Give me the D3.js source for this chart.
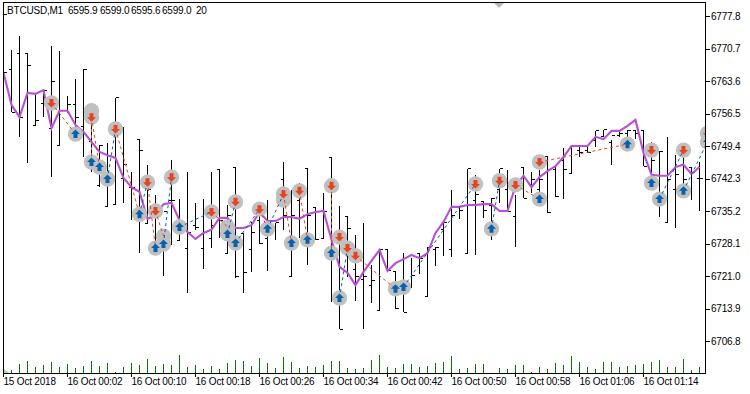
<!DOCTYPE html>
<html>
<head>
<meta charset="utf-8">
<script src="https://cdn.jsdelivr.net/npm/d3@7/dist/d3.min.js"></script>
<style>
  html, body { margin: 0; padding: 0; background: #fff; }
  svg { display: block; }
  text { font-family: "Liberation Sans", sans-serif; font-size: 10px; letter-spacing: -0.2px; fill: #000; white-space: pre; }
  .axis path { stroke: #000; }
  .axis line { stroke: #000; shape-rendering: crispEdges; }
</style>
</head>
<body>
<svg class="chart" width="750" height="394"></svg>
<script>
// one minute bars, index 0 is 15 Oct 23:54
var highs = [6768.2,6770.4,6773.4,6769.7,6760.5,6761.6,6771.3,6770.2,6760.3,6764.0,6766.2,6757.7,6749.6,6750.1,6759.9,6753.6,6743.7,6750.9,6745.3,6738.7,6731.1,6746.3,6737.8,6743.7,6737.0,6737.8,6743.7,6744.2,6736.5,6744.6,6730.2,6732.8,6736.1,6737.6,6732.6,6745.9,6739.8,6741.3,6744.4,6735.9,6739.1,6746.8,6736.3,6734.1,6730.0,6732.6,6723.4,6726.7,6726.7,6721.9,6726.0,6724.9,6726.0,6727.3,6727.3,6732.6,6739.8,6735.9,6744.4,6743.1,6737.2,6738.0,6744.4,6744.2,6738.7,6744.8,6743.7,6744.2,6747.0,6744.8,6749.0,6749.2,6749.4,6749.4,6752.7,6752.9,6750.7,6752.7,6752.9,6752.7,6752.7,6750.3,6748.3,6751.4,6747.4,6748.5,6744.8,6745.9];
var lows = [6759.5,6756.8,6751.4,6745.7,6753.8,6755.7,6742.6,6749.6,6756.6,6753.6,6747.0,6743.7,6740.4,6736.1,6736.7,6737.0,6733.2,6726.0,6732.4,6726.7,6721.0,6727.8,6728.7,6717.3,6731.1,6722.5,6727.1,6729.3,6726.0,6720.6,6717.3,6721.9,6728.0,6722.1,6728.9,6731.1,6721.0,6729.3,6723.4,6728.9,6729.3,6715.3,6709.4,6720.8,6715.5,6709.4,6715.1,6713.4,6722.3,6713.8,6713.1,6718.4,6721.4,6716.4,6723.2,6725.4,6725.2,6733.5,6726.0,6725.6,6733.7,6728.9,6737.0,6735.0,6727.3,6738.0,6739.1,6736.5,6734.8,6738.3,6737.8,6743.5,6747.0,6747.9,6749.2,6751.4,6745.3,6751.4,6749.8,6750.9,6745.0,6742.9,6733.9,6732.6,6731.5,6738.3,6737.6,6735.2];
var opens = [6766.0,6766.2,6769.5,6769.7,6753.8,6758.6,6753.3,6749.6,6757.1,6758.4,6753.6,6750.3,6740.7,6736.1,6736.7,6742.4,6740.4,6750.9,6732.4,6734.3,6728.9,6737.6,6728.7,6726.9,6732.1,6727.1,6729.3,6744.2,6726.0,6744.6,6730.2,6726.7,6733.2,6729.1,6731.5,6742.0,6721.0,6737.6,6744.4,6735.9,6729.3,6746.8,6715.8,6734.1,6722.5,6720.3,6719.0,6713.4,6726.7,6721.9,6717.9,6718.4,6726.0,6716.6,6726.7,6731.1,6726.7,6735.9,6726.0,6737.6,6737.2,6736.5,6739.8,6739.8,6734.1,6744.8,6740.9,6739.8,6747.0,6744.2,6746.3,6743.5,6748.5,6748.5,6750.7,6751.4,6750.1,6751.8,6752.2,6752.7,6752.7,6748.5,6748.1,6732.6,6739.8,6745.3,6744.8,6742.2];
var closes = [6765.4,6756.8,6755.7,6766.9,6754.9,6761.6,6763.6,6757.1,6758.4,6755.7,6766.2,6755.1,6749.6,6747.4,6759.9,6745.3,6740.4,6748.5,6739.8,6736.5,6735.0,6737.6,6732.8,6730.4,6731.7,6730.4,6732.1,6733.2,6734.3,6720.8,6721.7,6730.6,6728.0,6733.0,6732.6,6734.3,6734.3,6739.1,6734.3,6728.9,6735.2,6739.8,6709.4,6731.3,6720.8,6720.8,6720.1,6726.7,6722.3,6713.8,6713.1,6721.2,6724.9,6727.3,6727.3,6732.6,6734.3,6735.4,6744.4,6738.7,6735.4,6738.0,6744.4,6735.0,6739.8,6738.0,6742.0,6742.0,6734.8,6738.3,6744.2,6749.2,6747.9,6747.9,6752.7,6752.9,6751.8,6752.2,6752.7,6752.2,6745.0,6746.3,6748.3,6742.0,6743.1,6742.0,6743.7,6742.2];
// moving average drawn over the bars
var average = [6765.4,6758.4,6755.7,6761.0,6760.8,6761.6,6753.3,6757.1,6757.1,6754.0,6752.5,6750.3,6748.1,6747.4,6746.8,6742.4,6740.4,6739.4,6733.5,6734.3,6736.7,6737.0,6733.2,6730.6,6729.1,6730.4,6731.1,6733.7,6733.7,6731.5,6731.5,6732.1,6735.0,6733.0,6733.0,6733.9,6733.9,6733.5,6734.5,6735.0,6735.2,6728.9,6723.0,6721.7,6719.0,6721.9,6724.3,6726.7,6722.1,6723.8,6724.7,6725.6,6724.9,6726.0,6730.4,6732.8,6736.1,6736.1,6736.5,6736.5,6736.7,6736.7,6735.2,6735.2,6740.6,6742.9,6740.4,6742.6,6743.9,6745.0,6747.0,6749.4,6749.4,6749.4,6751.4,6750.9,6752.7,6752.7,6753.8,6755.1,6747.9,6743.1,6742.9,6742.9,6744.8,6745.3,6743.3,6744.8];
// tick volumes
var volumes = [0,10,28,37,18,25,34,18,28,16,22,37,22,31,4,19,31,25,43,22,28,25,55,19,25,13,22,13,31,40,37,22,46,31,16,49,34,16,22,19,25,37,37,16,13,16,40,55,19,16,28,28,19,22,31,34,52,13,16,28,28,0,16,13,25,25,3,19,13,31,25,52,34,19,13,34,34,19,22,25,28,34,40,19,19,43,10,19];
var wedgeIdx = [0, 0.75];
var wedgeVol = [14, 0];

// trade arrows
var sellIdx = [6,11,14,18,19,21,26,29,32,35,37,41,42,43,44,59,62,64,67,81,85,88];
var sellPrice = [6758.8,6755.7,6753.1,6741.5,6735.2,6742.6,6735.0,6737.2,6735.6,6738.9,6739.6,6740.7,6729.5,6727.1,6725.4,6741.1,6741.8,6740.9,6745.9,6748.5,6748.5,6752.2];
var buyIdx = [9,11,12,13,17,19,20,22,28,29,33,36,38,41,42,49,50,61,67,78,81,82,85,88];
var buyPrice = [6752.0,6745.9,6744.8,6742.2,6734.5,6727.1,6728.0,6731.7,6730.2,6728.2,6731.3,6728.2,6728.9,6726.0,6716.2,6718.2,6718.6,6731.3,6737.8,6749.8,6741.3,6737.8,6739.6,6750.3];
// rings hidden behind another arrow
var ringIdx = [11,20,28,35];
var ringPrice = [6757.1,6729.7,6731.7,6737.6];

// dashed trade lines: from index, from price, to index, to price
var sellLinks = [[6,6758.8,9,6752.0],[11,6755.7,11,6745.9],[11,6755.7,12,6744.8],[14,6753.1,17,6734.5],[18,6741.5,19,6727.1],[19,6735.2,20,6729.7],[26,6735.0,28,6731.7],[32,6735.6,33,6731.3],[35,6738.9,36,6728.2],[37,6739.6,38,6728.9],[41,6740.7,41,6726.0],[44,6725.4,49,6718.2],[64,6740.9,67,6737.8],[67,6745.9,78,6749.8]];
var buyLinks = [[13,6742.2,14,6753.1],[17,6734.5,18,6741.5],[20,6728.0,21,6742.6],[22,6731.7,26,6735.0],[28,6730.2,29,6737.2],[29,6728.2,32,6735.6],[33,6731.3,35,6738.9],[42,6716.2,43,6727.1],[50,6718.6,59,6741.1],[61,6731.3,62,6741.8],[82,6737.8,85,6748.5],[85,6739.6,88,6750.3]];

var priceTicks = [6777.8,6770.7,6763.6,6756.5,6749.4,6742.3,6735.2,6728.1,6721.0,6713.9,6706.8];
var timeIdx = [0,8,16,24,32,40,48,56,64,72,80];
var timeLabels = ["15 Oct 2018","16 Oct 00:02","16 Oct 00:10","16 Oct 00:18","16 Oct 00:26","16 Oct 00:34","16 Oct 00:42","16 Oct 00:50","16 Oct 00:58","16 Oct 01:06","16 Oct 01:14"];
var headerParts = ["BTCUSD,M1","6595.9","6599.0","6595.6","6599.0","20"];
var headerX = [7,68,100,131,162,196];

var svg = d3.select("svg.chart");
var plot = {l: 3, r: 705, t: 2, b: 373};

var xScale = d3.scaleLinear().domain([0, 87]).range([plot.l, 699]);
var yScale = d3.scaleLinear().domain([6706.8, 6777.8]).range([341, 16]);
var volScale = d3.scaleLinear().domain([0, 60]).range([plot.b, plot.b - 20]);

svg.append("clipPath").attr("id", "plot-clip")
  .append("rect")
  .attr("x", plot.l).attr("y", plot.t)
  .attr("width", plot.r - plot.l).attr("height", plot.b - plot.t);

var chartG = svg.append("g").attr("clip-path", "url(#plot-clip)");

// volume bars
chartG.selectAll(".vol").data(volumes).enter().append("line")
  .attr("class", "vol")
  .attr("x1", function(d, i) { return xScale(i) + 0.5; })
  .attr("x2", function(d, i) { return xScale(i) + 0.5; })
  .attr("y1", plot.b)
  .attr("y2", function(d) { return volScale(d); })
  .attr("stroke", "#007800")
  .attr("shape-rendering", "crispEdges");

chartG.append("path")
  .datum(wedgeIdx)
  .attr("d", d3.area()
    .x(function(d) { return xScale(d); })
    .y0(plot.b)
    .y1(function(d, i) { return volScale(wedgeVol[i]); }))
  .attr("fill", "#c4c4c4");

// price bars, open tick on the left and close tick on the right
var bars = chartG.selectAll(".bar").data(highs).enter().append("g")
  .attr("class", "bar")
  .attr("transform", function(d, i) { return "translate(" + (xScale(i) + 0.5) + ",0)"; })
  .attr("stroke", "#000")
  .attr("shape-rendering", "crispEdges");
bars.append("line")
  .attr("y1", function(d) { return yScale(d); })
  .attr("y2", function(d, i) { return yScale(lows[i]); });
bars.append("line")
  .attr("x1", -3).attr("x2", 0)
  .attr("y1", function(d, i) { return yScale(opens[i]); })
  .attr("y2", function(d, i) { return yScale(opens[i]); });
bars.append("line")
  .attr("x1", 0).attr("x2", 3)
  .attr("y1", function(d, i) { return yScale(closes[i]); })
  .attr("y2", function(d, i) { return yScale(closes[i]); });

// moving average sits under the arrows
chartG.append("path")
  .datum(average)
  .attr("d", d3.line()
    .x(function(d, i) { return xScale(i) + 0.5; })
    .y(function(d) { return yScale(d); }))
  .attr("fill", "none")
  .attr("stroke", "#b850d6")
  .attr("stroke-width", 2.1);

function drawRings(idx, prices) {
  chartG.selectAll(null).data(idx).enter().append("circle")
    .attr("cx", function(d) { return xScale(d) + 0.5; })
    .attr("cy", function(d, i) { return yScale(prices[i]); })
    .attr("r", 7.7)
    .attr("fill", "#c0c0c0");
}
drawRings(ringIdx, ringPrice);
drawRings(buyIdx, buyPrice);
drawRings(sellIdx, sellPrice);

function drawLinks(links, color) {
  chartG.selectAll(null).data(links).enter().append("line")
    .attr("x1", function(d) { return xScale(d[0]) + 0.5; })
    .attr("y1", function(d) { return yScale(d[1]); })
    .attr("x2", function(d) { return xScale(d[2]) + 0.5; })
    .attr("y2", function(d) { return yScale(d[3]); })
    .attr("stroke", color)
    .attr("stroke-width", 1)
    .attr("stroke-dasharray", "3,3");
}
drawLinks(sellLinks, "#e8431f");
drawLinks(buyLinks, "#0662b0");

var arrowDown = "M-2,-4H2V0H4.5L0,4.5L-4.5,0H-2Z";
var arrowUp = "M-2,4H2V0H4.5L0,-4.5L-4.5,0H-2Z";

function drawArrows(idx, prices, shape, color) {
  chartG.selectAll(null).data(idx).enter().append("path")
    .attr("transform", function(d, i) {
      return "translate(" + (xScale(d) + 0.5) + "," + yScale(prices[i]) + ")";
    })
    .attr("d", shape)
    .attr("fill", color);
}
drawArrows(buyIdx, buyPrice, arrowUp, "#0662b0");
drawArrows(sellIdx, sellPrice, arrowDown, "#e8431f");

// frame
svg.append("rect")
  .attr("x", plot.l + 0.5).attr("y", plot.t + 0.5)
  .attr("width", plot.r - plot.l).attr("height", plot.b - plot.t)
  .attr("fill", "none").attr("stroke", "#000")
  .attr("shape-rendering", "crispEdges");

// axes
var yAxisG = svg.append("g").attr("class", "axis")
  .attr("transform", "translate(" + plot.r + ",0)")
  .call(d3.axisRight(yScale).tickValues(priceTicks).tickSize(5).tickPadding(1)
    .tickSizeOuter(0).tickFormat(d3.format(".1f")));
yAxisG.select(".domain").remove();

var xAxisG = svg.append("g").attr("class", "axis")
  .attr("transform", "translate(0," + plot.b + ")")
  .call(d3.axisBottom(xScale).tickValues(timeIdx).tickSize(4).tickPadding(0)
    .tickSizeOuter(0).tickFormat(function(d, i) { return timeLabels[i]; }));
xAxisG.select(".domain").remove();
xAxisG.selectAll("text").attr("text-anchor", "start").attr("x", 0).attr("y", 5);
svg.selectAll(".axis").attr("font-family", null).attr("font-size", null);

// header label, stub next to it and the shift marker on top
svg.selectAll(".head").data(headerParts).enter().append("text")
  .attr("class", "head")
  .attr("x", function(d, i) { return headerX[i]; })
  .attr("y", 14)
  .text(function(d) { return d; });
svg.append("line").attr("x1", 4).attr("x2", 7).attr("y1", 14.5).attr("y2", 14.5)
  .attr("stroke", "#000").attr("shape-rendering", "crispEdges");
svg.append("path").attr("d", "M494,3H504L499,8Z").attr("fill", "#b8b8b8");
</script>
</body>
</html>
